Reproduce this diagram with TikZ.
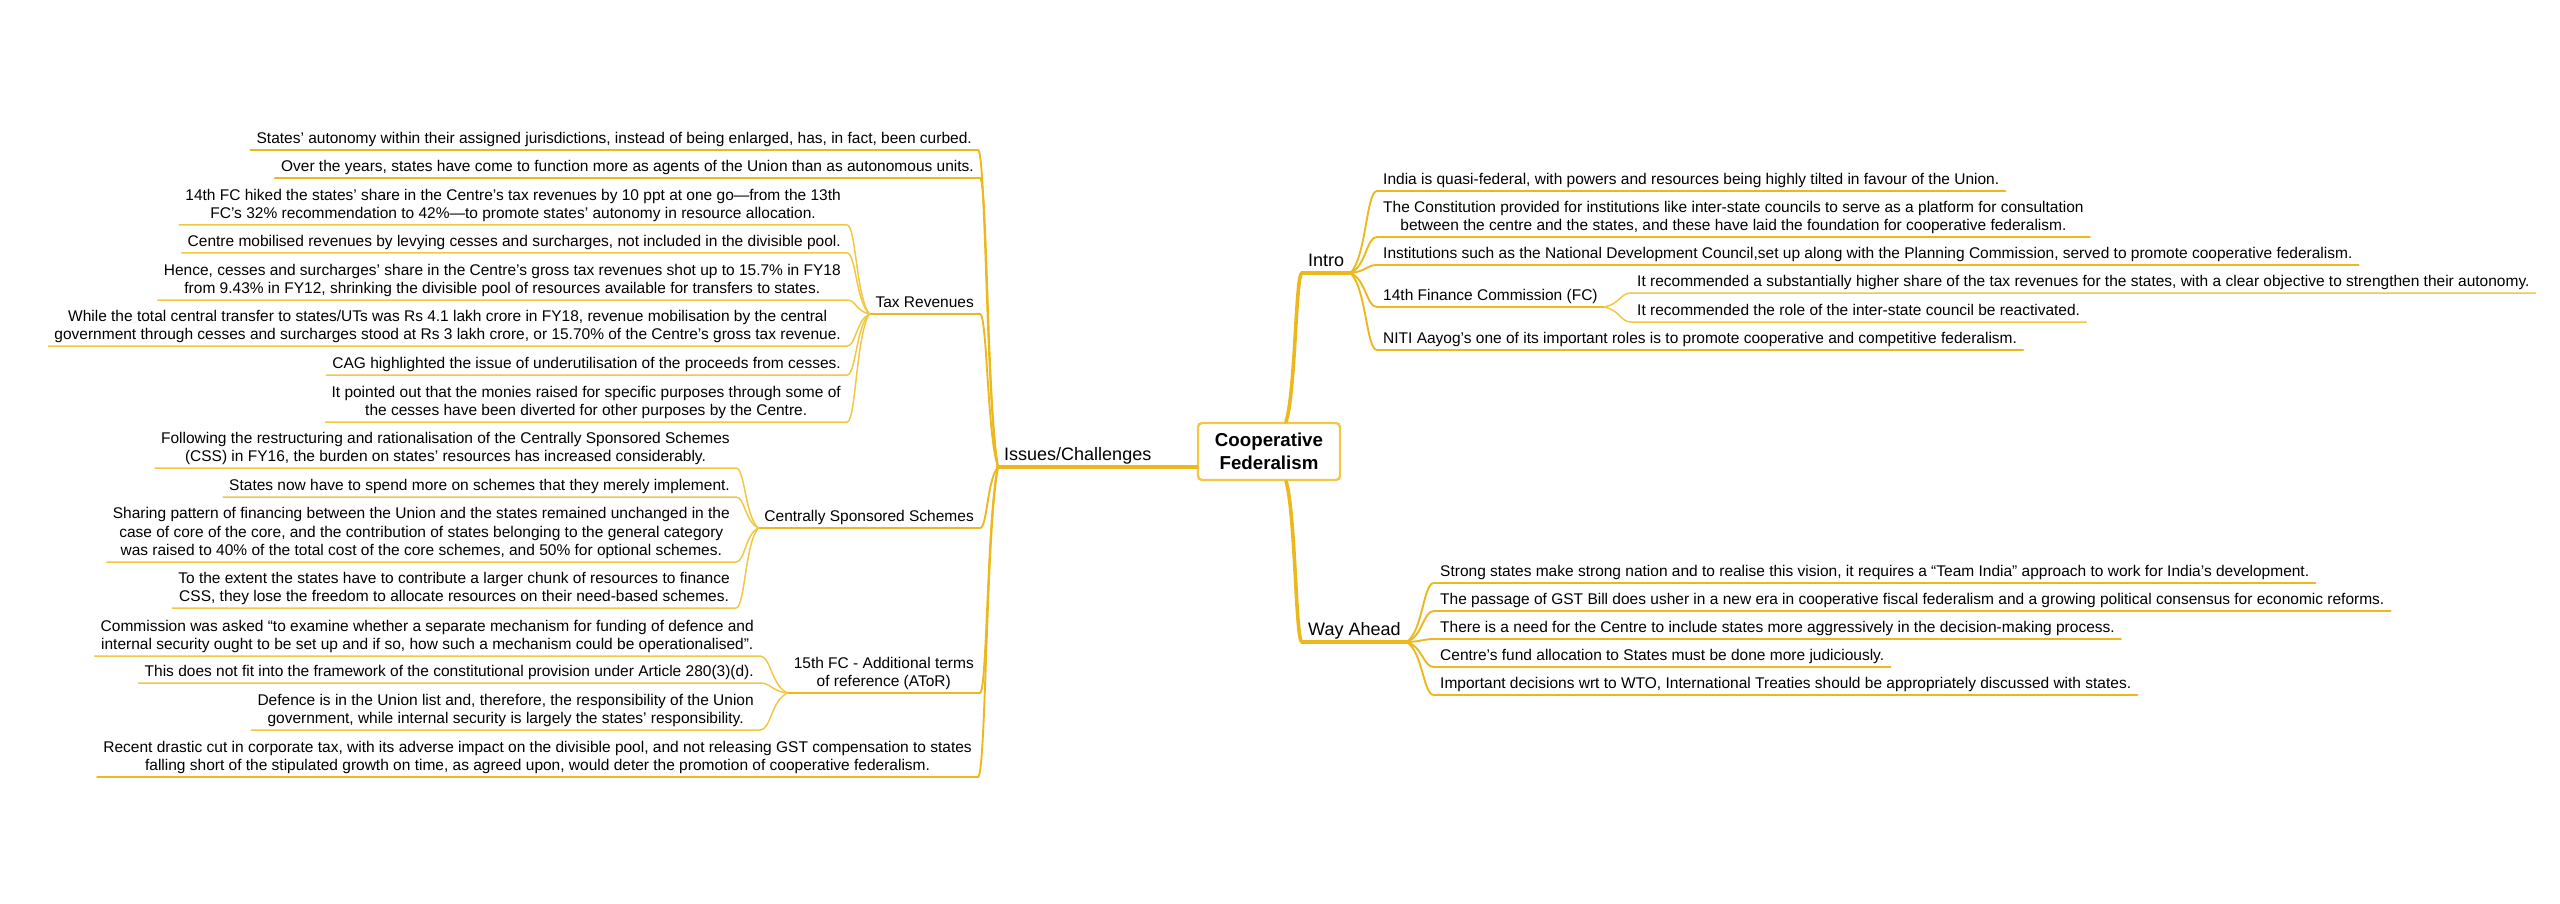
\documentclass[tikz,border=0pt]{standalone}
\usepackage{fontspec}
\setmainfont{Liberation Sans}
\usetikzlibrary{calc}

\definecolor{mapgold}{RGB}{236,184,30}
\definecolor{twiggold}{RGB}{240,200,70}
\newcommand{\lowstrut}{\rule[-3.4pt]{0pt}{3.4pt}}

\begin{document}
\begin{tikzpicture}[
            x = 1pt, y = -1pt, % pixel grid, y runs downwards
            line cap = round,
            % curved branch: steep near the parent, flat into the child
            twig/.style = {to path = {let \p1 = (\tikztostart), \p2 = (\tikztotarget) in
                .. controls ({\x1+0.6*(\x2-\x1)}, {\y1+0.2*(\y2-\y1)}) and ({\x1+0.6*(\x2-\x1)}, \y2) .. (\tikztotarget)}}
        ]

        \tikzstyle{core}=[
            draw = twiggold,
            line width = 2.3pt,
            fill = white,
            rounded corners = 4pt,
            align = center,
            font = \fontsize{18.7}{23}\selectfont\bfseries,
            minimum width = 142pt,
            minimum height = 57pt,
            inner sep = 0pt
        ]
        \tikzstyle{branch}=[font = \fontsize{18}{21.6}\selectfont, inner xsep = 6pt, inner ysep = 2.5pt, execute at end node = \lowstrut]
        \tikzstyle{topic}=[font = \fontsize{15.5}{18.6}\selectfont, align = center, inner xsep = 6pt, inner ysep = 2.5pt, execute at end node = \lowstrut]
        \tikzstyle{trunk}=[draw = mapgold, line width = 3.6pt]
        \tikzstyle{bough}=[draw = mapgold, line width = 1.9pt]
        \tikzstyle{leafline}=[draw = twiggold, line width = 1.5pt]

        \useasboundingbox (0,0) rectangle (2560,904);

	% centre
	\node[core] (ccf) at (1269,451.5) {Cooperative\\Federalism};
	\coordinate (up) at ($(ccf.north)+(17,0)$);
	\coordinate (dn) at ($(ccf.south)+(17,0)$);

	% left: issues
	\node[branch, anchor = south west] (iss) at (998,467) {Issues/Challenges};
	\draw[trunk] (ccf.west |- iss.south) -- (iss.south west);

	\node[topic, anchor = south east] (a1) at (978,150) {States’ autonomy within their assigned jurisdictions, instead of being enlarged, has, in fact, been curbed.};
	\node[topic, anchor = south east] (a2) at (980,178) {Over the years, states have come to function more as agents of the Union than as autonomous units.};
	\node[topic, anchor = south east] (tr) at (980,314) {Tax Revenues};
	\node[topic, anchor = south east] (css) at (980,528) {Centrally Sponsored Schemes};
	\node[topic, anchor = south east] (fc) at (980,693) {15th FC - Additional terms\\of reference (AToR)};
	\node[topic, anchor = south east] (r1) at (978,777) {Recent drastic cut in corporate tax, with its adverse impact on the divisible pool, and not releasing GST compensation to states\\falling short of the stipulated growth on time, as agreed upon, would deter the promotion of cooperative federalism.};

	\node[topic, anchor = south east] (t1) at (847,225) {14th FC hiked the states’ share in the Centre’s tax revenues by 10 ppt at one go—from the 13th\\FC’s 32\% recommendation to 42\%—to promote states’ autonomy in resource allocation.};
	\node[topic, anchor = south east] (t2) at (847,253) {Centre mobilised revenues by levying cesses and surcharges, not included in the divisible pool.};
	\node[topic, anchor = south east] (t3) at (847,300) {Hence, cesses and surcharges’ share in the Centre’s gross tax revenues shot up to 15.7\% in FY18\\from 9.43\% in FY12, shrinking the divisible pool of resources available for transfers to states.};
	\node[topic, anchor = south east] (t4) at (847,346) {While the total central transfer to states/UTs was Rs 4.1 lakh crore in FY18, revenue mobilisation by the central\\government through cesses and surcharges stood at Rs 3 lakh crore, or 15.70\% of the Centre’s gross tax revenue.};
	\node[topic, anchor = south east] (t5) at (847,375) {CAG highlighted the issue of underutilisation of the proceeds from cesses.};
	\node[topic, anchor = south east] (t6) at (847,422) {It pointed out that the monies raised for specific purposes through some of\\the cesses have been diverted for other purposes by the Centre.};

	\node[topic, anchor = south east] (c1) at (736,468) {Following the restructuring and rationalisation of the Centrally Sponsored Schemes\\(CSS) in FY16, the burden on states’ resources has increased considerably.};
	\node[topic, anchor = south east] (c2) at (736,497) {States now have to spend more on schemes that they merely implement.};
	\node[topic, anchor = south east] (c3) at (736,562) {Sharing pattern of financing between the Union and the states remained unchanged in the\\case of core of the core, and the contribution of states belonging to the general category\\was raised to 40\% of the total cost of the core schemes, and 50\% for optional schemes.};
	\node[topic, anchor = south east] (c4) at (736,608) {To the extent the states have to contribute a larger chunk of resources to finance\\CSS, they lose the freedom to allocate resources on their need-based schemes.};

	\node[topic, anchor = south east] (f1) at (760,656) {Commission was asked “to examine whether a separate mechanism for funding of defence and\\internal security ought to be set up and if so, how such a mechanism could be operationalised”.};
	\node[topic, anchor = south east] (f2) at (760,683) {This does not fit into the framework of the constitutional provision under Article 280(3)(d).};
	\node[topic, anchor = south east] (f3) at (760,730) {Defence is in the Union list and, therefore, the responsibility of the Union\\government, while internal security is largely the states’ responsibility.};

	\foreach \k in {a1,a2,tr,css,fc,r1}
	    \draw[bough] (iss.south west) to[twig] (\k.south east) -- (\k.south west);
	\foreach \k in {t1,t2,t3,t4,t5,t6}
	    \draw[leafline] (tr.south west) to[twig] (\k.south east) -- (\k.south west);
	\foreach \k in {c1,c2,c3,c4}
	    \draw[leafline] (css.south west) to[twig] (\k.south east) -- (\k.south west);
	\foreach \k in {f1,f2,f3}
	    \draw[leafline] (fc.south west) to[twig] (\k.south east) -- (\k.south west);

	% right: intro
	\node[branch, anchor = south west] (intro) at (1302,273) {Intro};
	\draw[trunk] (up) to[twig] (intro.south west) -- (intro.south east);

	\node[topic, anchor = south west] (i1) at (1377,191) {India is quasi-federal, with powers and resources being highly tilted in favour of the Union.};
	\node[topic, anchor = south west] (i2) at (1377,237) {The Constitution provided for institutions like inter-state councils to serve as a platform for consultation\\between the centre and the states, and these have laid the foundation for cooperative federalism.};
	\node[topic, anchor = south west] (i3) at (1377,265) {Institutions such as the National Development Council,set up along with the Planning Commission, served to promote cooperative federalism.};
	\node[topic, anchor = south west] (i4) at (1377,307) {14th Finance Commission (FC)};
	\node[topic, anchor = south west] (i5) at (1377,350) {NITI Aayog's one of its important roles is to promote cooperative and competitive federalism.};
	\node[topic, anchor = south west] (i41) at (1631,293) {It recommended a substantially higher share of the tax revenues for the states, with a clear objective to strengthen their autonomy.};
	\node[topic, anchor = south west] (i42) at (1631,322) {It recommended the role of the inter-state council be reactivated.};

	\foreach \k in {i1,i2,i3,i4,i5}
	    \draw[bough] (intro.south east) to[twig] (\k.south west) -- (\k.south east);
	\foreach \k in {i41,i42}
	    \draw[leafline] (i4.south east) to[twig] (\k.south west) -- (\k.south east);

	% right: way ahead
	\node[branch, anchor = south west] (way) at (1302,642) {Way Ahead};
	\draw[trunk] (dn) to[twig] (way.south west) -- (way.south east);

	\node[topic, anchor = south west] (w1) at (1434,583) {Strong states make strong nation and to realise this vision, it requires a “Team India” approach to work for India’s development.};
	\node[topic, anchor = south west] (w2) at (1434,611) {The passage of GST Bill does usher in a new era in cooperative fiscal federalism and a growing political consensus for economic reforms.};
	\node[topic, anchor = south west] (w3) at (1434,639) {There is a need for the Centre to include states more aggressively in the decision-making process.};
	\node[topic, anchor = south west] (w4) at (1434,667) {Centre’s fund allocation to States must be done more judiciously.};
	\node[topic, anchor = south west] (w5) at (1434,695) {Important decisions wrt to WTO, International Treaties should be appropriately discussed with states.};

	\foreach \k in {w1,w2,w3,w4,w5}
	    \draw[bough] (way.south east) to[twig] (\k.south west) -- (\k.south east);

    \end{tikzpicture}
\end{document}
